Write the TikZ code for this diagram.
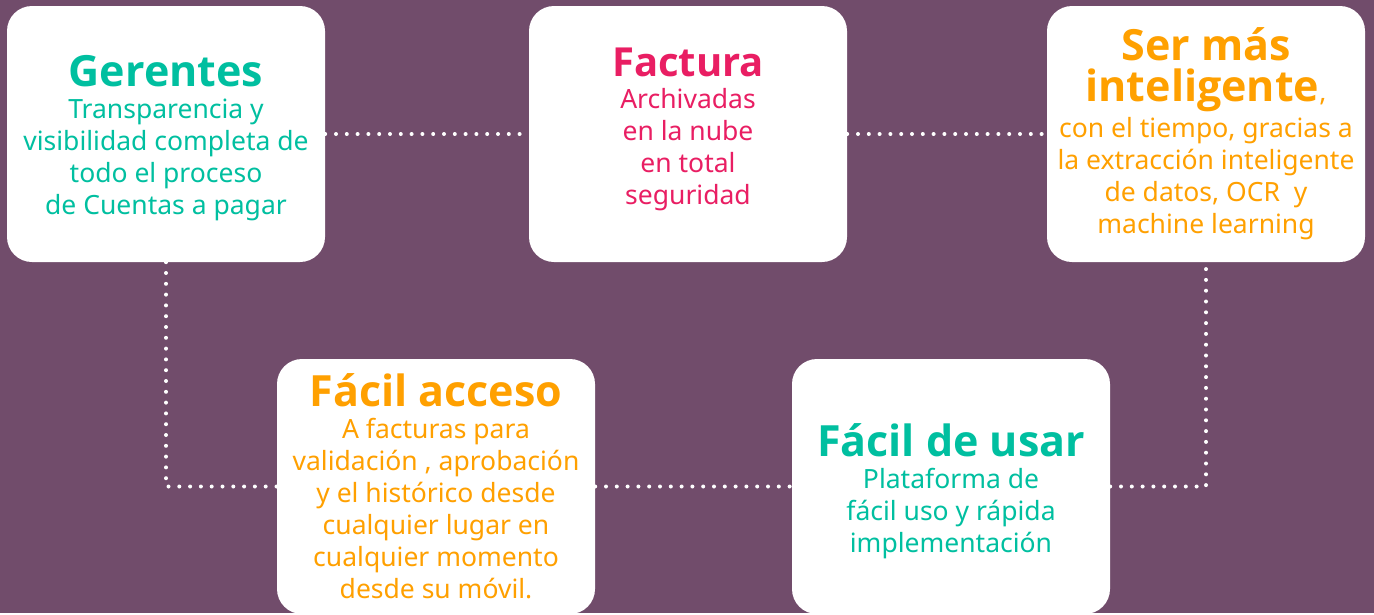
\documentclass[tikz,border=0pt]{standalone}
\usepackage{fontspec}
\setmainfont{Noto Sans}
\newfontfamily\negrita{Open Sans}
\usetikzlibrary{positioning}

\definecolor{fondo}{RGB}{113,76,107}
\definecolor{verde}{RGB}{0,191,160}
\definecolor{rosa}{RGB}{233,30,99}
\definecolor{naranja}{RGB}{255,160,0}

\newcommand{\titulo}[2][43]{{\negrita\bfseries\fontsize{#1}{#1}\selectfont #2}}

\begin{document}
\begin{tikzpicture}[x=1pt, y=-1pt,
    caja/.style={rectangle, rounded corners=25pt, fill=white, minimum width=318pt,
        minimum height=256pt, inner sep=0pt},
    texto/.style={align=center, inner sep=0pt, font=\fontsize{26.5}{32}\selectfont},
    puntos/.style={white, line width=4pt, line cap=round, dash pattern=on 0pt off 10.8pt}]
\fill[fondo] (0,0) rectangle (1374,613);

% cajas
\node[caja] (gerentes) at (166,134) {};
\node[caja] (factura) at (688,134) {};
\node[caja] (inteligente) at (1206,134) {};
\node[caja, minimum height=255pt] (acceso) at (436,486.5) {};
\node[caja, minimum height=255pt] (usar) at (951,486.5) {};

% textos
\node[texto, text=verde] (gerentes-txt) at ([yshift=-4pt]gerentes.center) {%
    \titulo{Gerentes}\\
    Transparencia y\\
    visibilidad completa de\\
    todo el proceso\\
    de Cuentas a pagar};
\node[texto, text=rosa] (factura-txt) at ([yshift=5pt]factura.center) {%
    \titulo[40]{Factura}\\
    Archivadas\\
    en la nube\\
    en total\\
    seguridad};
\node[texto, text=naranja] (inteligente-txt) at (inteligente.center) {%
    \titulo{Ser más}\\[7pt]
    \titulo{inteligente},\\[4pt]
    con el tiempo, gracias a\\
    la extracción inteligente\\
    de datos, OCR\ \ y\\
    machine learning};
\node[texto, text=naranja] (acceso-txt) at (acceso.center) {%
    \titulo{Fácil acceso}\\
    A facturas para\\
    validación , aprobación\\
    y el histórico desde\\
    cualquier lugar en\\
    cualquier momento\\
    desde su móvil.};
\node[texto, text=verde] (usar-txt) at ([yshift=-5pt]usar.center) {%
    \titulo{Fácil de usar}\\
    Plataforma de\\
    fácil uso y rápida\\
    implementación};

% conexiones punteadas
\draw[puntos] (gerentes.east) -- (factura.west);
\draw[puntos] (factura.east) -- (inteligente.west);
\draw[puntos] (gerentes.south) -- (gerentes.south |- acceso.west) -- (acceso.west);
\draw[puntos] (acceso.east) -- (usar.west);
\draw[puntos] (usar.east) -- (usar.east -| inteligente.south) -- (inteligente.south);
\end{tikzpicture}
\end{document}
